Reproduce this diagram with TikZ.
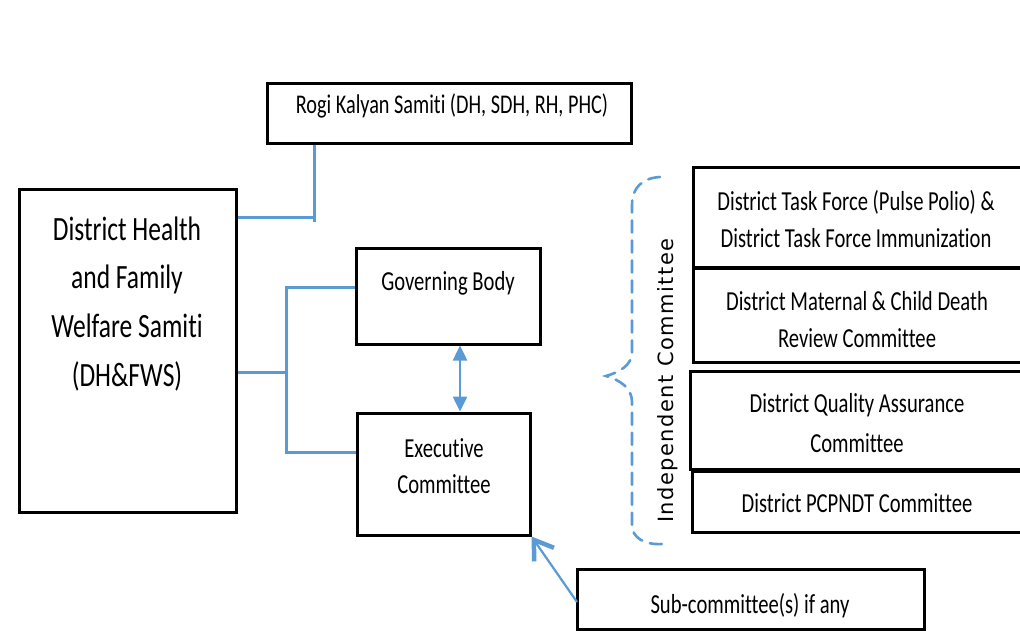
\documentclass[tikz,border=0pt]{standalone}
\usepackage{fontspec}
\newfontfamily\cf{Carlito}[FakeStretch=0.75, Ligatures=NoCommon]
\newfontfamily\rf{DejaVu Sans}[LetterSpace=7]
\usetikzlibrary{arrows.meta}
\definecolor{lb}{HTML}{5B9BD5}
\begin{document}
\begin{tikzpicture}[x=1pt,y=-1pt,
  box/.style={draw, line width=3pt, inner sep=0pt},
  txt/.style={font=\cf\fontsize{27.5}{30}\selectfont, anchor=base, inner sep=0pt},
  bigtxt/.style={font=\cf\fontsize{34}{36}\selectfont, anchor=base, inner sep=0pt},
  smalltxt/.style={font=\cf\fontsize{27}{28}\selectfont, anchor=base, inner sep=0pt},
  conn/.style={draw=lb, line width=3pt},
  brace/.style={draw=lb, line width=2.6pt, dash pattern=on 12pt off 8pt, line cap=round}]
\useasboundingbox (0,0) rectangle (1020,630);
\fill[white] (0,0) rectangle (1020,630);

% boxes
\node[box, minimum width=364pt, minimum height=60pt] (rogi) at (449,113) {};
\node[box, minimum width=217pt, minimum height=323pt] (dh) at (127.5,350.5) {};
\node[box, minimum width=184pt, minimum height=96pt] (gb) at (448,296) {};
\node[box, minimum width=173pt, minimum height=122pt] (ec) at (443.5,474) {};
\node[box, minimum width=332pt, minimum height=100pt] (r1) at (859,217) {};
\node[box, minimum width=332pt, minimum height=94pt] (r2) at (859,315) {};
\node[box, minimum width=335pt, minimum height=98pt] (r3) at (857.5,420) {};
\node[box, minimum width=333pt, minimum height=61pt] (r4) at (858.5,501.5) {};
\node[box, minimum width=347pt, minimum height=60pt] (sub) at (750.5,599) {};

% texts
\node[smalltxt] (trogi) at (452,113) {Rogi Kalyan Samiti (DH, SDH, RH, PHC)};
\node[bigtxt] (tdh1) at (127,240) {District Health};
\node[bigtxt] (tdh2) at (127,288) {and Family};
\node[bigtxt] (tdh3) at (127,337) {Welfare Samiti};
\node[bigtxt] (tdh4) at (127,386) {(DH\&FWS)};
\node[txt] (tgb) at (448,290) {Governing Body};
\node[txt] (tec1) at (444,457) {Executive};
\node[txt] (tec2) at (444,493) {Committee};
\node[txt] (tr11) at (856,210) {District Task Force (Pulse Polio) \&};
\node[txt] (tr12) at (856,247) {District Task Force Immunization};
\node[txt] (tr21) at (857,310) {District Maternal \& Child Death};
\node[txt] (tr22) at (857,347) {Review Committee};
\node[txt] (tr31) at (857,412) {District Quality Assurance};
\node[txt] (tr32) at (857,452) {Committee};
\node[txt] (tr4) at (857,512) {District PCPNDT Committee};
\node[txt] (tsub) at (750,613) {Sub-committee(s) if any};
\node[font=\rf\fontsize{21}{24}\selectfont, rotate=90, anchor=base west, inner sep=0pt] (indep) at (673,523) {Independent Committee};

% connectors
\coordinate (rj) at (314,217);
\draw[conn] (dh.east |- rj) -- (rj);
\draw[conn] (rogi.south -| rj) -- (314,222);
\coordinate (bj) at (286,372);
\draw[conn] (dh.east |- bj) -- (bj);
\draw[conn] (gb.west |- 0,287) -- (286,287) -- (286,452) -- (ec.west |- 0,452);
\draw[conn, line width=2.5pt, {Triangle[length=15pt,width=14pt]}-{Triangle[length=15pt,width=14pt]}] (gb.south -| 460,0) -- (ec.north -| 460,0);
\coordinate (st) at (577,602);
\draw[conn, line width=2.2pt, -{Straight Barb[length=18pt,width=24pt,line width=4.5pt]}] (st) -- (ec.south east);

% brace
\draw[brace] (660,177) .. controls (642,178) and (632,188) .. (632,205) -- (632,352)
  .. controls (632,365) and (620,372) .. (606,376)
  .. controls (620,380) and (632,388) .. (632,402) -- (632,525)
  .. controls (632,538) and (645,545) .. (662,544);
\end{tikzpicture}
\end{document}
